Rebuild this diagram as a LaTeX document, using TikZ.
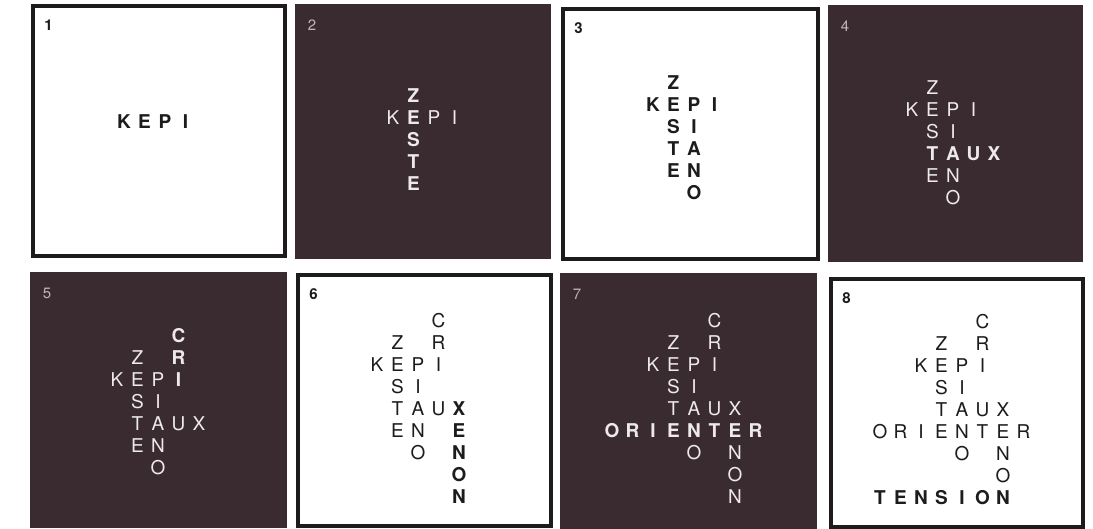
\documentclass[tikz,border=0pt]{standalone}
\usepackage{fontspec}
\setmainfont{TeX Gyre Heros}
\usepackage{tikz}
\definecolor{PanelDark}{RGB}{58,43,49}
\definecolor{InkBlack}{RGB}{30,27,29}
\definecolor{InkWhite}{RGB}{238,234,234}
\definecolor{NumGrey}{RGB}{190,182,182}

\begin{document}
\begin{tikzpicture}[x=1pt, y=-1pt,
    letter/.style={inner sep=0pt, font=\fontsize{19}{19}\selectfont},
    numlabel/.style={inner sep=0pt, font=\fontsize{15}{15}\selectfont}]
  \useasboundingbox (0,0) rectangle (1093,529);
  \fill[white] (0,0) rectangle (1093,529);
  \foreach \n/\xa/\ya/\xb/\yb/\dark/\ox/\oy/\bfrom in {
      1/32.5/6/284.5/256.5/0/83/78/1,      2/295/4/551/259/1/352/74/2,
      3/562.5/9/817.5/259.5/0/612/61/1,    4/828/5/1083/262/1/871/66/4,
      5/30/272/287/528/1/76/336/5,         6/297.5/275.5/550.5/525.5/0/336/321/6,
      7/560/273/817/529/1/612/321/7,       8/830.5/279.5/1082.5/527/0/880/322/8} {
    \ifnum\dark=1
      \fill[PanelDark] (\xa,\ya) rectangle (\xb,\yb);
      \node[numlabel, text=NumGrey] (num\n) at (\xa+17,\ya+21) {\n};
      \def\ink{InkWhite}
    \else
      \draw[InkBlack, line width=4pt, fill=white] (\xa,\ya) rectangle (\xb,\yb);
      \node[numlabel, text=InkBlack] (num\n) at (\xa+16,\ya+19) {\bfseries\n};
      \def\ink{InkBlack}
    \fi
    \foreach \col/\row/\ltr/\first/\second in {
        2/2/K/1/0, 3/2/E/1/2, 4/2/P/1/3, 5/2/I/1/5,
        3/1/Z/2/0, 3/3/S/2/0, 3/4/T/2/4, 3/5/E/2/7,
        4/3/I/3/0, 4/4/A/3/4, 4/5/N/3/7, 4/6/O/3/0,
        5/4/U/4/0, 6/4/X/4/6,
        5/0/C/5/0, 5/1/R/5/0,
        6/5/E/6/7, 6/6/N/6/0, 6/7/O/6/0, 6/8/N/6/8,
        0/5/O/7/0, 1/5/R/7/0, 2/5/I/7/0, 5/5/T/7/0, 7/5/R/7/0,
        0/8/T/8/0, 1/8/E/8/0, 2/8/N/8/0, 3/8/S/8/0, 4/8/I/8/0, 5/8/O/8/0} {
      \ifnum\first>\n\else
        \pgfmathtruncatemacro\last{\second>\n ? \first : max(\first,\second)}
        \ifnum\last<\bfrom \def\wt{\mdseries}\else \def\wt{\bfseries}\fi
        \node[letter, text=\ink] (l\n-\col-\row) at (\ox+\col*20.5,\oy+\row*22) {\wt\ltr};
      \fi
    }
  }
\end{tikzpicture}
\end{document}
